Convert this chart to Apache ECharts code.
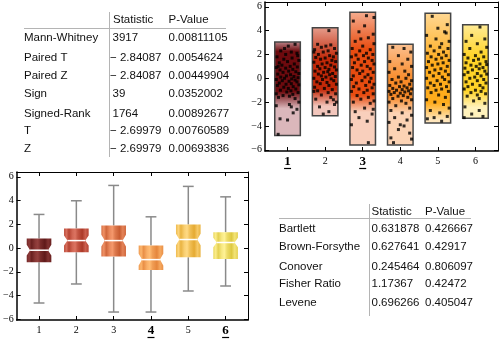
<!DOCTYPE html>
<html><head><meta charset="utf-8">
<script src="https://cdn.jsdelivr.net/npm/echarts@6/dist/echarts.min.js"></script>
<style>html,body{margin:0;padding:0;background:#fff}#c{width:500px;height:344px}</style>
</head><body><div id="c"></div><script>
// ---------- data ----------
const groups = [1, 2, 3, 4, 5, 6];
// strip-plot points per group: [horizontal jitter, value]
const pts1 = [[0.2,2.85],[0.02,2.7],[-0.18,2.3],[0.1,2.2],[-0.05,2.0],[0.25,2.1],[-0.28,1.8],[0.12,1.7],[-0.1,1.6],[0.3,1.5],[0.0,1.4],[-0.22,1.3],[0.18,1.2],[-0.15,1.1],[0.07,1.0],[0.26,0.95],[-0.3,0.9],[-0.05,0.85],[0.14,0.75],[-0.2,0.7],[0.03,0.6],[0.22,0.55],[-0.12,0.5],[0.3,0.4],[-0.26,0.35],[0.08,0.3],[-0.03,0.2],[0.17,0.15],[-0.18,0.1],[0.28,0.05],[-0.08,0.0],[0.11,-0.05],[-0.3,-0.1],[0.2,-0.15],[-0.14,-0.2],[0.04,-0.25],[0.25,-0.3],[-0.22,-0.4],[0.1,-0.45],[-0.04,-0.5],[0.3,-0.55],[-0.27,-0.6],[0.15,-0.7],[-0.1,-0.75],[0.02,-0.85],[0.22,-0.9],[-0.19,-1.0],[0.09,-1.05],[-0.02,-1.15],[0.28,-1.2],[-0.3,-1.3],[0.14,-1.35],[-0.12,-1.45],[0.05,-1.5],[-0.24,-1.6],[0.2,-1.7],[0.3,-2.0],[-0.3,-2.3],[0.05,-2.2],[0.25,-2.6],[0.15,-2.9],[-0.2,-3.4],[0.0,-3.5],[-0.25,-4.7],[0.1,-2.4],[-0.08,2.5],[0.27,1.9],[-0.25,1.0]];
const pts2 = [[0.1,4.0],[-0.2,2.85],[0.15,2.8],[0.02,2.7],[-0.1,2.6],[0.25,2.5],[-0.28,2.4],[0.08,2.3],[-0.05,2.2],[0.3,2.1],[-0.18,2.0],[0.12,1.9],[0.22,1.8],[-0.25,1.75],[0.0,1.7],[-0.12,1.6],[0.18,1.5],[0.28,1.4],[-0.3,1.35],[0.05,1.3],[-0.08,1.2],[0.15,1.1],[-0.2,1.0],[0.25,0.95],[0.0,0.9],[-0.14,0.8],[0.1,0.75],[0.3,0.7],[-0.27,0.6],[0.07,0.55],[-0.04,0.5],[0.2,0.4],[-0.18,0.35],[0.12,0.3],[-0.1,0.2],[0.27,0.15],[0.02,0.1],[-0.3,0.0],[0.16,-0.05],[-0.07,-0.1],[0.23,-0.2],[-0.22,-0.3],[0.05,-0.35],[-0.13,-0.45],[0.3,-0.5],[0.1,-0.6],[-0.28,-0.75],[-0.02,-0.85],[0.19,-0.95],[-0.2,-1.05],[-0.3,-1.1],[0.08,-1.2],[0.28,-1.3],[-0.1,-1.4],[0.15,-1.6],[-0.25,-1.75],[0.05,-2.0],[0.25,-2.2],[-0.15,-2.4],[0.3,-2.0],[0.1,-2.8],[-0.05,-3.0],[0.22,-1.8],[-0.3,2.2]];
const pts3 = [[0.1,5.25],[0.3,5.1],[-0.25,4.8],[0.05,4.4],[-0.1,3.9],[0.28,3.7],[0.15,3.4],[-0.2,3.1],[0.3,2.9],[0.0,2.7],[-0.28,2.5],[0.2,2.4],[-0.08,2.3],[0.1,2.1],[0.27,2.0],[-0.18,1.95],[0.02,1.9],[-0.3,1.8],[0.15,1.7],[-0.12,1.6],[0.25,1.5],[0.05,1.4],[-0.22,1.3],[0.3,1.2],[-0.04,1.1],[0.12,1.0],[-0.27,0.9],[0.2,0.8],[-0.15,0.7],[0.0,0.6],[0.28,0.5],[-0.08,0.4],[0.14,0.3],[-0.25,0.2],[0.06,0.1],[0.22,0.0],[-0.3,-0.1],[-0.02,-0.2],[0.18,-0.3],[-0.17,-0.4],[0.3,-0.5],[0.08,-0.6],[-0.24,-0.7],[0.25,-0.8],[-0.1,-0.9],[0.12,-1.0],[-0.3,-1.1],[0.03,-1.2],[0.28,-1.3],[-0.15,-1.45],[0.15,-1.6],[-0.05,-1.75],[0.3,-1.9],[-0.25,-2.0],[0.2,-2.1],[0.05,-2.5],[-0.2,-2.8],[0.25,-3.0],[-0.1,-3.3],[0.12,-3.6],[0.28,-2.6],[-0.3,-3.9],[0.15,-5.4],[-0.05,3.3]];
const pts4 = [[-0.2,2.6],[0.1,2.5],[0.28,2.2],[-0.05,1.9],[0.2,1.6],[-0.28,1.4],[0.05,1.2],[0.3,1.0],[-0.15,0.8],[0.12,0.6],[-0.3,0.5],[0.22,0.3],[-0.05,0.1],[0.15,0.0],[-0.22,-0.1],[0.3,-0.2],[0.02,-0.3],[-0.12,-0.4],[0.25,-0.5],[-0.28,-0.6],[0.1,-0.65],[-0.02,-0.7],[0.18,-0.8],[-0.2,-0.85],[0.3,-0.9],[0.05,-0.95],[-0.1,-1.0],[0.22,-1.05],[-0.3,-1.1],[0.12,-1.15],[-0.16,-1.2],[0.0,-1.25],[0.27,-1.3],[-0.25,-1.35],[0.08,-1.45],[-0.06,-1.5],[0.2,-1.6],[-0.2,-1.7],[0.3,-1.8],[0.03,-1.9],[-0.3,-2.0],[0.15,-2.1],[-0.12,-2.3],[0.25,-2.5],[-0.25,-2.7],[0.05,-2.9],[0.3,-3.1],[-0.15,-3.3],[0.18,-3.5],[-0.3,-3.7],[0.1,-4.0],[-0.05,-4.3],[0.25,-4.6],[-0.25,-5.0],[0.3,-5.1],[-0.18,-5.4],[0.0,-3.9]];
const pts5 = [[-0.15,5.2],[0.25,4.5],[0.0,4.2],[0.18,3.9],[0.22,3.8],[-0.3,3.6],[-0.05,3.3],[0.3,3.1],[0.1,2.9],[-0.2,2.7],[0.05,2.6],[0.27,2.5],[-0.1,2.3],[0.15,2.2],[-0.28,2.1],[0.02,2.0],[0.22,1.9],[-0.18,1.8],[0.1,1.7],[-0.05,1.6],[0.3,1.5],[-0.25,1.4],[0.14,1.3],[0.0,1.2],[-0.15,1.1],[0.25,1.0],[-0.3,0.9],[0.08,0.8],[-0.08,0.7],[0.2,0.6],[-0.22,0.5],[0.03,0.4],[0.28,0.3],[-0.12,0.2],[0.12,0.1],[-0.3,0.0],[0.18,-0.1],[-0.02,-0.2],[0.3,-0.3],[-0.2,-0.4],[0.07,-0.5],[-0.1,-0.6],[0.23,-0.7],[-0.27,-0.8],[0.1,-0.9],[-0.05,-1.0],[0.28,-1.1],[-0.18,-1.2],[0.02,-1.4],[0.2,-1.6],[-0.3,-1.8],[-0.08,-2.0],[0.15,-2.2],[0.3,-2.5],[-0.2,-2.7],[0.05,-2.9],[0.25,-3.2],[-0.1,-3.3],[0.1,-3.6],[-0.28,-3.4]];
const pts6 = [[0.12,4.3],[-0.1,3.6],[0.25,3.3],[-0.25,3.1],[0.05,2.9],[0.3,2.6],[-0.15,2.5],[0.15,2.2],[-0.3,2.0],[0.0,1.9],[0.22,1.8],[-0.2,1.7],[0.08,1.6],[-0.05,1.5],[0.28,1.4],[-0.25,1.3],[0.12,1.2],[0.3,1.15],[-0.12,1.1],[0.02,1.0],[0.2,0.9],[-0.28,0.85],[0.1,0.8],[-0.08,0.7],[0.25,0.6],[-0.2,0.5],[0.05,0.4],[0.3,0.35],[-0.3,0.3],[0.15,0.2],[-0.02,0.1],[-0.15,0.0],[0.22,-0.1],[0.05,-0.2],[-0.25,-0.3],[0.28,-0.4],[-0.08,-0.5],[0.12,-0.6],[-0.2,-0.7],[0.2,-0.8],[-0.3,-0.9],[0.0,-1.0],[0.15,-1.1],[-0.12,-1.2],[0.27,-1.3],[0.05,-1.4],[-0.22,-1.5],[0.1,-1.7],[-0.05,-1.9],[0.25,-2.1],[-0.28,-2.4],[0.1,-2.7],[-0.1,-3.0],[0.2,-3.2],[-0.3,-3.3]];

// ranges of the shaded bars in the strip plot
const barMin = [-4.8, -3.15, -5.6, -5.6, -3.75, -3.35];
const barMax = [3.05, 4.25, 5.55, 2.85, 5.45, 4.5];
const bandHi = [2.2, 1.6, 2.4, -0.2, 1.2, 1.8];
const bandLo = [-1.1, -0.9, -1.4, -1.5, -2.0, -1.0];

// notched box-whisker statistics
const boxLo  = [-4.62, -3.02, -5.38, -5.38, -3.61, -3.19];
const boxQ1  = [-1.19, -0.35, -0.71, -1.84, -0.77, -0.91];
const boxMed = [-0.18, 0.63, 0.63, -0.97, 0.72, 0.47];
const boxQ3  = [0.80, 1.65, 1.90, 0.21, 1.98, 1.34];
const boxHi  = [2.83, 3.98, 5.27, 2.63, 5.19, 4.31];
const notchHalf = [0.45, 0.42, 0.5, 0.5, 0.48, 0.4];

const yTicks = [-6, -4, -2, 0, 2, 4, 6];
const topBold = [1, 3];
const bottomBold = [4, 6];

// tables
const t1Rows = ['Mann-Whitney', 'Paired T', 'Paired Z', 'Sign', 'Signed-Rank', 'T', 'Z'];
const t1Stat = ['3917', '\u2212 2.84087', '\u2212 2.84087', '39', '1764', '\u2212 2.69979', '\u2212 2.69979'];
const t1P    = ['0.00811105', '0.0054624', '0.00449904', '0.0352002', '0.00892677', '0.00760589', '0.00693836'];
const t2Rows = ['Bartlett', 'Brown-Forsythe', 'Conover', 'Fisher Ratio', 'Levene'];
const t2Stat = ['0.631878', '0.627641', '0.245464', '1.17367', '0.696266'];
const t2P    = ['0.426667', '0.42917', '0.806097', '0.42472', '0.405047'];
const headers = ['Statistic', 'P-Value'];

// ---------- styles ----------
const barLight = ['#dbb7bb', '#f2c6bc', '#f9cfbc', '#fcd3b4', '#ffe6bc', '#fff2bc'];
const barDark  = ['#6e0a0e', '#c22808', '#e84c10', '#f88a28', '#ffac1c', '#ffd428'];
const boxDark  = ['#561212', '#a42e1e', '#c05228', '#e07c32', '#e0a224', '#d8c232'];
const boxLight = ['#94403e', '#dc7462', '#f4986c', '#ffbc74', '#ffda84', '#fff296'];

function hex(c){return [parseInt(c.slice(1,3),16),parseInt(c.slice(3,5),16),parseInt(c.slice(5,7),16)];}
function mix(a,b,t){const A=hex(a),B=hex(b);return 'rgb('+A.map((v,i)=>Math.round(v+(B[i]-v)*t)).join(',')+')';}

const serif = '"Liberation Serif", "DejaVu Serif", serif';
const sans = '"Liberation Sans", Arial, sans-serif';

const scatterData = [];
[pts1, pts2, pts3, pts4, pts5, pts6].forEach((arr, gi) => arr.forEach(p => scatterData.push([groups[gi] + p[0], p[1]])));

function renderBar(params, api) {
  const i = params.dataIndex;
  const x = api.value(0), lo = api.value(1), hi = api.value(2);
  const p0 = api.coord([x - 0.34, hi]), p1 = api.coord([x + 0.34, lo]);
  const off = v => Math.min(1, Math.max(0, (hi - v) / (hi - lo)));
  const stops = [
    {offset: 0, color: mix(barLight[i], barDark[i], 0.25)},
    {offset: off(bandHi[i]), color: barDark[i]},
    {offset: off(bandLo[i]), color: barDark[i]},
    {offset: off(bandLo[i] - 1.4), color: barLight[i]},
    {offset: 1, color: barLight[i]}
  ];
  return {type: 'rect', shape: {x: p0[0], y: p0[1], width: p1[0] - p0[0], height: p1[1] - p0[1]},
    style: {fill: {type: 'linear', x: 0, y: 0, x2: 0, y2: 1, colorStops: stops}, stroke: '#454545', lineWidth: 1.5}};
}

const stripePattern = [[0,0.45],[0.1,0.9],[0.2,0.3],[0.34,0.8],[0.45,1.0],[0.56,0.55],[0.74,0.15],[0.87,0.7],[1,0.3]];
function renderBox(params, api) {
  const i = params.dataIndex;
  const x = api.value(0), lo = api.value(1), q1 = api.value(2), med = api.value(3), q3 = api.value(4), hi = api.value(5);
  const h = 0.33, d = 0.09, cw = 0.145, nh = notchHalf[i];
  const nTop = Math.min(q3, med + nh), nBot = Math.max(q1, med - nh);
  const c = (a, b) => api.coord([a, b]);
  const poly = [c(x-h,q3), c(x+h,q3), c(x+h,nTop), c(x+h-d,med), c(x+h,nBot), c(x+h,q1), c(x-h,q1), c(x-h,nBot), c(x-h+d,med), c(x-h,nTop)];
  const ws = {stroke: '#8a8a8a', lineWidth: 1.5};
  const ln = (a, b, e, f, st) => { const p = c(a, b), q = c(e, f); return {type: 'line', shape: {x1: p[0], y1: p[1], x2: q[0], y2: q[1]}, style: st}; };
  const stops = stripePattern.map(s => ({offset: s[0], color: mix(boxDark[i], boxLight[i], s[1])}));
  return {type: 'group', children: [
    ln(x, q3, x, hi, ws), ln(x - cw, hi, x + cw, hi, ws),
    ln(x, q1, x, lo, ws), ln(x - cw, lo, x + cw, lo, ws),
    {type: 'polygon', shape: {points: poly}, style: {fill: {type: 'linear', x: 0, y: 0, x2: 1, y2: 0, colorStops: stops}}},
    ln(x - h + d, med, x + h - d, med, {stroke: '#ffffff', lineWidth: 1.5})
  ]};
}

function xLabelFmt(bold) {
  return v => bold.indexOf(v) >= 0 ? '{b|' + v + '}\n{u| }' : '{r|' + v + '}';
}
const xRich = {
  r: {fontFamily: serif, fontSize: 10, color: '#000'},
  b: {fontFamily: serif, fontSize: 13, fontWeight: 'bold', color: '#000', lineHeight: 11},
  u: {width: 7, height: 1.2, lineHeight: 3, fontSize: 1, backgroundColor: '#000'}
};

function axesFor(gi, bold) {
  return [
    {gridIndex: gi, type: 'value', min: 0.4, max: 6.6, position: 'bottom',
     axisLine: {onZero: false, lineStyle: {color: '#000', width: 1.5}},
     axisTick: {inside: true, length: 4, customValues: groups, lineStyle: {color: '#000'}},
     axisLabel: {customValues: groups, margin: 5, formatter: xLabelFmt(bold), rich: xRich},
     splitLine: {show: false}},
    {gridIndex: gi, type: 'value', min: 0.4, max: 6.6, position: 'top',
     axisLine: {onZero: false, lineStyle: {color: '#000', width: 1}},
     axisTick: {inside: true, length: 4, customValues: groups, lineStyle: {color: '#000'}},
     axisLabel: {show: false}, splitLine: {show: false}}
  ];
}
function yAxesFor(gi, min, max) {
  return [
    {gridIndex: gi, type: 'value', min: min, max: max, position: 'left',
     axisLine: {show: true, onZero: false, lineStyle: {color: '#000', width: 1.5}},
     axisTick: {show: true, inside: true, length: 4, customValues: yTicks, lineStyle: {color: '#000'}},
     axisLabel: {customValues: yTicks, margin: 3, fontFamily: serif, fontSize: 10, color: '#000',
       formatter: v => String(v).replace('-', '\u2212')},
     splitLine: {show: false}},
    {gridIndex: gi, type: 'value', min: min, max: max, position: 'right',
     axisLine: {show: true, onZero: false, lineStyle: {color: '#000', width: 1}},
     axisTick: {show: true, inside: true, length: 4, customValues: yTicks, lineStyle: {color: '#000'}},
     axisLabel: {show: false}, splitLine: {show: false}}
  ];
}

// ---------- tables as graphic text ----------
const graphics = [];
function txt(s, x, y) {
  graphics.push({type: 'text', style: {text: s, x: x, y: y, fill: '#111', font: '11.5px ' + sans, verticalAlign: 'middle', align: 'left'}});
}
function hline(x1, y1, x2, y2) {
  graphics.push({type: 'line', shape: {x1: x1, y1: y1, x2: x2, y2: y2}, style: {stroke: '#b4b4b4', lineWidth: 1}});
}
// table 1
const t1RowY = [38.3, 57.5, 75.7, 93.7, 113.5, 130.7, 148.5];
txt(headers[0], 113, 19.5); txt(headers[1], 168.5, 19.5);
hline(24, 28.5, 226, 28.5); hline(109.5, 12, 109.5, 157);
t1Rows.forEach((r, k) => { txt(r, 24, t1RowY[k]); txt(t1Stat[k], t1Stat[k][0] === '\u2212' ? 110 : 112.5, t1RowY[k]); txt(t1P[k], 168.5, t1RowY[k]); });
// table 2
const t2RowY = [229.3, 246.7, 266.7, 284.2, 302.7];
txt(headers[0], 371.5, 211.5); txt(headers[1], 425, 211.5);
hline(279, 218.5, 471, 218.5); hline(369.5, 204, 369.5, 316);
t2Rows.forEach((r, k) => { txt(r, 279, t2RowY[k]); txt(t2Stat[k], 371.5, t2RowY[k]); txt(t2P[k], 425, t2RowY[k]); });

const chart = echarts.init(document.getElementById('c'), null, {renderer: 'canvas'});
chart.setOption({
  animation: false,
  backgroundColor: '#fff',
  grid: [
    {left: 265, top: 2, width: 233, height: 149, show: true, backgroundColor: '#fff', borderWidth: 0},
    {left: 15, top: 172, width: 233, height: 148, show: true, backgroundColor: '#fff', borderWidth: 0}
  ],
  xAxis: axesFor(0, topBold).concat(axesFor(1, bottomBold)),
  yAxis: yAxesFor(0, -6.1, 6.4).concat(yAxesFor(1, -6.05, 6.4)),
  series: [
    {type: 'custom', xAxisIndex: 0, yAxisIndex: 0, renderItem: renderBar, z: 2,
     data: groups.map((g, i) => [g, barMin[i], barMax[i]])},
    {type: 'scatter', xAxisIndex: 0, yAxisIndex: 0, symbol: 'rect', symbolSize: 3, z: 3,
     itemStyle: {color: '#000'}, data: scatterData},
    {type: 'custom', xAxisIndex: 2, yAxisIndex: 2, renderItem: renderBox, z: 2,
     data: groups.map((g, i) => [g, boxLo[i], boxQ1[i], boxMed[i], boxQ3[i], boxHi[i]])}
  ],
  graphic: graphics
});
</script></body></html>
